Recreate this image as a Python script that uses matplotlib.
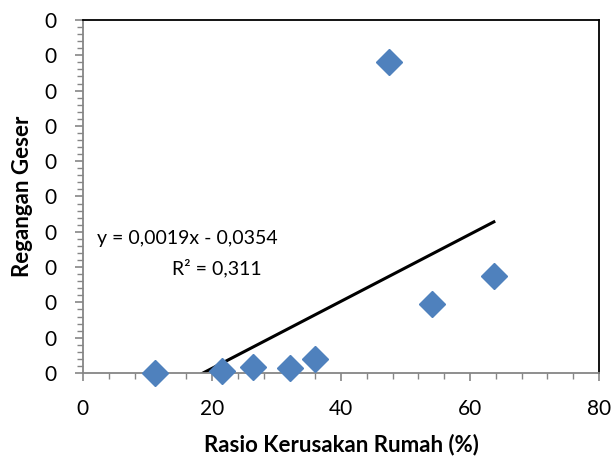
import matplotlib.pyplot as plt
from matplotlib.ticker import MultipleLocator, FormatStrFormatter

plt.rcParams['font.family'] = ['Lato', 'DejaVu Sans']

# data
rasio = [11.2, 21.5, 26.4, 32.1, 36.0, 47.4, 54.1, 63.7]
regangan = [0.0, 0.001, 0.0034, 0.0028, 0.0079, 0.176, 0.039, 0.055]

# trendline from the chart label
slope = 0.0019
intercept = -0.0354
trend_x = [min(rasio), max(rasio)]
trend_y = [slope * v + intercept for v in trend_x]

fig = plt.figure(figsize=(6.14, 4.63), dpi=100, facecolor='white')
ax = fig.add_axes([0.135, 0.1944, 0.8406, 0.7624])

ax.plot(trend_x, trend_y, color='black', linewidth=2.2, zorder=2)
ax.plot(rasio, regangan, linestyle='none', marker='D', markersize=13,
        color='#4F81BD', markeredgecolor='#4F81BD', zorder=3, clip_on=False)

ax.set_xlim(0, 80)
ax.set_ylim(0, 0.2)
ax.xaxis.set_major_locator(MultipleLocator(20))
ax.xaxis.set_minor_locator(MultipleLocator(4))
ax.yaxis.set_major_locator(MultipleLocator(0.02))
ax.yaxis.set_minor_locator(MultipleLocator(0.004))
ax.yaxis.set_major_formatter(FormatStrFormatter('%.0f'))

for side in ['top', 'right']:
    ax.spines[side].set_color('black')
    ax.spines[side].set_linewidth(1.3)
for side in ['left', 'bottom']:
    ax.spines[side].set_color('#868686')
    ax.spines[side].set_linewidth(1.3)

ax.tick_params(axis='both', which='major', direction='out', length=6,
               width=1.2, color='#868686', labelsize=15)
ax.tick_params(axis='x', which='major', pad=13)
ax.tick_params(axis='y', which='major', pad=13)
ax.tick_params(axis='both', which='minor', direction='out', length=4,
               width=1.0, color='#868686')

ax.text(0.203, 0.382, 'y = 0,0019x - 0,0354', transform=ax.transAxes,
        fontsize=14, ha='center', va='center')
ax.text(0.26, 0.297, 'R² = 0,311', transform=ax.transAxes,
        fontsize=14, ha='center', va='center')

ax.set_xlabel('Rasio Kerusakan Rumah (%)', fontsize=16, fontweight='bold',
              labelpad=10)
ax.set_ylabel('Regangan Geser', fontsize=16, fontweight='bold', labelpad=8)

fig.savefig('out.png', dpi=100, facecolor='white')
